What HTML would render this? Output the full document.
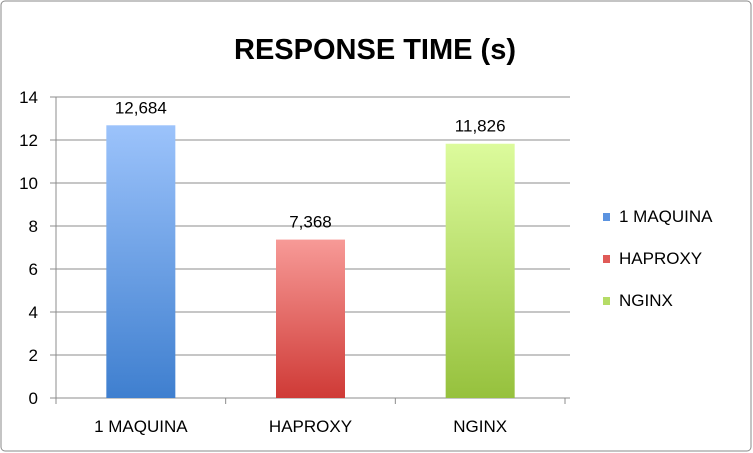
<!DOCTYPE html>
<html><head><meta charset="utf-8"><style>
body{margin:0;background:#fff}
svg{font-family:"Liberation Sans",sans-serif;display:block}
</style></head><body>
<svg width="753" height="453">
<defs>
<linearGradient id="gb" x1="0" y1="0" x2="0" y2="1"><stop offset="0" stop-color="#9cc3fb"/><stop offset="1" stop-color="#3f7fcf"/></linearGradient>
<linearGradient id="gr" x1="0" y1="0" x2="0" y2="1"><stop offset="0" stop-color="#f79a97"/><stop offset="1" stop-color="#cf3a36"/></linearGradient>
<linearGradient id="gg" x1="0" y1="0" x2="0" y2="1"><stop offset="0" stop-color="#dcfb9c"/><stop offset="1" stop-color="#96c13d"/></linearGradient>
</defs>
<rect x="1" y="1" width="750" height="450" rx="4" fill="#fff" stroke="#8a8a8a"/>
<text x="375" y="59" text-anchor="middle" font-size="29" font-weight="bold">RESPONSE TIME (s)</text>
<g id="grid"></g><g id="bars"></g><g id="legend"></g>
</svg>
<script>
const categories=["1 MAQUINA","HAPROXY","NGINX"];
const values=[12.684,7.368,11.826];
const valueLabels=["12,684","7,368","11,826"];
const yTicks=[0,2,4,6,8,10,12,14];
const fills=["url(#gb)","url(#gr)","url(#gg)"];
const legendColors=["#5b93e0","#e05a57","#b5dc66"];
const NS="http://www.w3.org/2000/svg";
const L=56,R=565,GR=570,T=97,B=398,yMax=14;
const y=v=>B-(v/yMax)*(B-T);
const bw=(R-L)/categories.length;
const xc=i=>L+bw*(i+0.5);
function mk(t,a,p){const e=document.createElementNS(NS,t);for(const k in a)e.setAttribute(k,a[k]);p.appendChild(e);return e;}
const g=document.getElementById('grid');
yTicks.forEach(t=>{
 const ln=mk('line',{x1:50,x2:GR,y1:y(t),y2:y(t),stroke:'#8c8c8c','stroke-width':1},g);
 
 
 const tx=mk('text',{x:38,y:y(t)+6,'text-anchor':'end','font-size':17},g);tx.textContent=t;
 
 
});
const ax=mk('line',{x1:L,x2:L,y1:T,y2:B+6,stroke:'#8c8c8c'},g);


for(let i=0;i<=categories.length;i++){const tk=mk('line',{x1:L+bw*i,x2:L+bw*i,y1:B,y2:B+6,stroke:'#8c8c8c'},g);
 
 }
const bg=document.getElementById('bars');
categories.forEach((c,i)=>{
 const r=mk('rect',{x:xc(i)-34.5,y:y(values[i]),width:69,height:B-y(values[i]),fill:fills[i]},bg);
 
 
 const vl=mk('text',{x:xc(i),y:y(values[i])-12,'text-anchor':'middle','font-size':17},bg);vl.textContent=valueLabels[i];
 
 
 const xl=mk('text',{x:xc(i),y:432,'text-anchor':'middle','font-size':17},bg);xl.textContent=c;
 
 
});
const lg=document.getElementById('legend');
categories.forEach((c,i)=>{
 const yy=213+i*42;
 const s=mk('rect',{x:603,y:yy,width:7,height:8,fill:legendColors[i]},lg);
 
 
 const t=mk('text',{x:619,y:yy+9,'font-size':17},lg);t.textContent=c;
 
 
});
</script>
</body></html>
